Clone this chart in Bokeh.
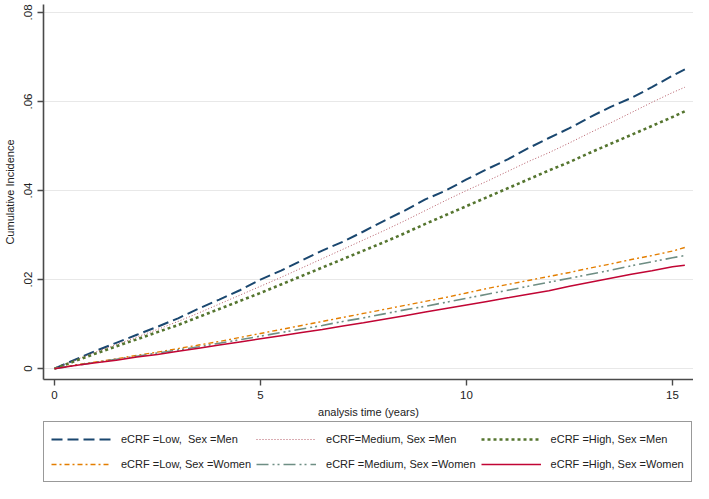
from bokeh.plotting import figure
from bokeh.layouts import column
from bokeh.models import Legend, LegendItem, FixedTicker, Range1d
from bokeh.embed import file_html
from bokeh.resources import INLINE

# analysis time (years)
time = [0.0, 0.5, 1.0, 1.5, 2.0, 2.5, 3.0, 3.5, 4.0, 4.5, 5.0, 5.5, 6.0, 6.5, 7.0, 7.5,
        8.0, 8.5, 9.0, 9.5, 10.0, 10.5, 11.0, 11.5, 12.0, 12.5, 13.0, 13.5, 14.0, 14.5,
        15.0, 15.3]

low_men = [0.0, 0.0020, 0.0040, 0.0058, 0.0076, 0.0094, 0.0113, 0.0135, 0.0155, 0.0176,
           0.0200, 0.0220, 0.0243, 0.0265, 0.0285, 0.0308, 0.0332, 0.0355, 0.0380, 0.0400,
           0.0425, 0.0448, 0.0470, 0.0495, 0.0518, 0.0540, 0.0565, 0.0588, 0.0608, 0.0632,
           0.0658, 0.0672]
medium_men = [0.0, 0.0019, 0.0037, 0.0054, 0.0071, 0.0088, 0.0106, 0.0125, 0.0145, 0.0165,
              0.0185, 0.0205, 0.0226, 0.0247, 0.0268, 0.0289, 0.0310, 0.0332, 0.0355, 0.0378,
              0.0400, 0.0421, 0.0443, 0.0465, 0.0485, 0.0507, 0.0530, 0.0552, 0.0575, 0.0598,
              0.0620, 0.0632]
high_men = [0.0, 0.0017, 0.0034, 0.0050, 0.0066, 0.0082, 0.0098, 0.0116, 0.0134, 0.0152,
            0.0170, 0.0189, 0.0208, 0.0227, 0.0246, 0.0265, 0.0284, 0.0304, 0.0325, 0.0345,
            0.0365, 0.0385, 0.0405, 0.0425, 0.0445, 0.0464, 0.0485, 0.0505, 0.0525, 0.0545,
            0.0565, 0.0578]
low_women = [0.0, 0.0008, 0.0015, 0.0022, 0.0030, 0.0037, 0.0045, 0.0053, 0.0061, 0.0070,
             0.0079, 0.0088, 0.0097, 0.0106, 0.0115, 0.0124, 0.0133, 0.0142, 0.0151, 0.0160,
             0.0170, 0.0180, 0.0189, 0.0198, 0.0207, 0.0216, 0.0226, 0.0235, 0.0245, 0.0254,
             0.0264, 0.0272]
medium_women = [0.0, 0.0007, 0.0014, 0.0021, 0.0028, 0.0035, 0.0042, 0.0049, 0.0057, 0.0065,
                0.0073, 0.0081, 0.0089, 0.0097, 0.0106, 0.0114, 0.0123, 0.0132, 0.0140, 0.0149,
                0.0158, 0.0167, 0.0176, 0.0185, 0.0194, 0.0203, 0.0212, 0.0221, 0.0231, 0.0240,
                0.0249, 0.0254]
high_women = [0.0, 0.0007, 0.0013, 0.0019, 0.0026, 0.0032, 0.0039, 0.0046, 0.0053, 0.0060,
              0.0067, 0.0074, 0.0081, 0.0088, 0.0096, 0.0103, 0.0111, 0.0119, 0.0127, 0.0135,
              0.0143, 0.0151, 0.0159, 0.0167, 0.0175, 0.0185, 0.0194, 0.0203, 0.0212, 0.0220,
              0.0229, 0.0232]

labels = ["eCRF =Low,  Sex =Men", "eCRF=Medium, Sex =Men", "eCRF =High, Sex =Men",
          "eCRF =Low, Sex =Women", "eCRF =Medium, Sex =Women", "eCRF =High, Sex =Women"]

y_ticks = [0.0, 0.02, 0.04, 0.06, 0.08]
y_tick_labels = ["0", ".02", ".04", ".06", ".08"]
x_ticks = [0, 5, 10, 15]

FONT = "Liberation Sans"

styles = [
    dict(line_color="#1a476f", line_width=2.0, line_dash="11 5"),
    dict(line_color="#b45a66", line_width=1.0, line_dash="1 2"),
    dict(line_color="#55752f", line_width=2.6, line_dash="3 3"),
    dict(line_color="#e37e00", line_width=1.4, line_dash="5 3 2 3"),
    dict(line_color="#6e8e84", line_width=1.6, line_dash="12 4 2 3 2 4"),
    dict(line_color="#c10534", line_width=1.5),
]
series = [low_men, medium_men, high_men, low_women, medium_women, high_women]

p = figure(width=693, height=420, output_backend="svg", toolbar_location=None,
           x_range=Range1d(-0.266, 15.51), y_range=Range1d(-0.00244, 0.08178),
           min_border_top=4, min_border_right=0, min_border_left=41, min_border_bottom=0)
p.outline_line_color = None
p.background_fill_color = "white"
p.border_fill_color = "white"

p.xgrid.grid_line_color = None
p.ygrid.grid_line_color = "#e8e8e8"
p.ygrid.grid_line_width = 1
p.yaxis.ticker = FixedTicker(ticks=y_ticks)
p.yaxis.major_label_overrides = {t: l for t, l in zip(y_ticks, y_tick_labels)}
p.xaxis.ticker = FixedTicker(ticks=x_ticks)

for ax in (p.xaxis, p.yaxis):
    ax.axis_line_color = "#4a4a4a"
    ax.axis_line_width = 1.6
    ax.major_tick_line_color = "#4a4a4a"
    ax.major_tick_line_width = 1.4
    ax.major_tick_out = 6
    ax.major_tick_in = 0
    ax.minor_tick_line_color = None
    ax.major_label_text_font = FONT
    ax.major_label_text_font_size = "11.5px"
    ax.major_label_text_color = "#222222"
    ax.axis_label_text_font = FONT
    ax.axis_label_text_font_size = "11px"
    ax.axis_label_text_font_style = "normal"
    ax.axis_label_text_color = "#222222"

p.yaxis.major_label_orientation = "vertical"
p.yaxis.major_label_standoff = 5
p.yaxis.axis_label_standoff = 6
p.xaxis.major_label_standoff = 5
p.xaxis.axis_label_standoff = 4
p.xaxis.axis_label = "analysis time (years)"
p.yaxis.axis_label = "Cumulative Incidence"

for ys, st in zip(series, styles):
    p.line(time, ys, **st)

# legend strip below the plot: same series, drawn off-view so that only the key shows
p2 = figure(width=693, height=63, output_backend="svg", toolbar_location=None,
            x_range=Range1d(-3, -2), y_range=Range1d(0, 1),
            x_axis_location=None, y_axis_location=None,
            min_border_top=0, min_border_right=0, min_border_left=41, min_border_bottom=0)
p2.outline_line_color = None
p2.grid.visible = False
p2.background_fill_color = "white"
p2.border_fill_color = "white"

items = []
for lab, ys, st in zip(labels, series, styles):
    r = p2.line(time, ys, **st)
    items.append(LegendItem(label=lab, renderers=[r]))

legend = Legend(items=items, ncols=3, orientation="horizontal", location=(0, 1),
                glyph_width=60, glyph_height=20, label_standoff=10, spacing=5,
                padding=7, margin=0,
                label_text_font=FONT, label_text_font_size="11px",
                label_text_color="#222222",
                border_line_color="#333333", border_line_width=1,
                background_fill_color="white", background_fill_alpha=1.0)
p2.add_layout(legend, "center")

layout = column(p, p2, spacing=0)
open("out.html", "w").write(file_html(layout, INLINE))
